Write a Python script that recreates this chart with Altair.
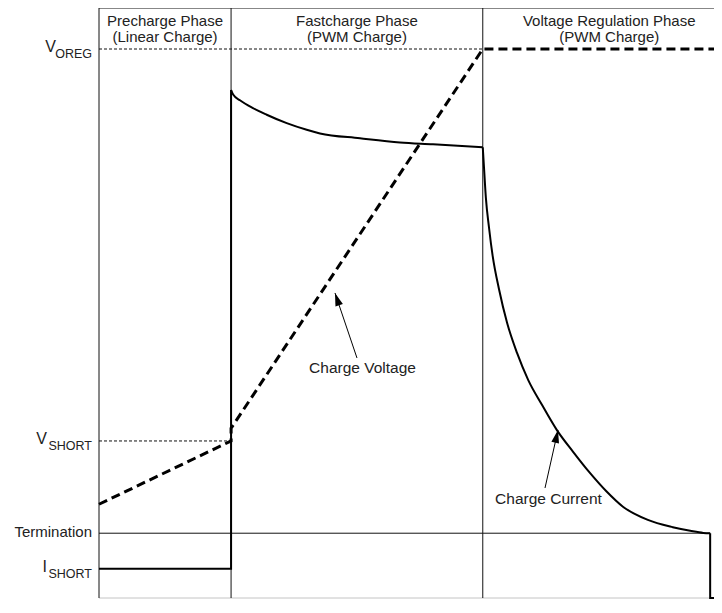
import math
import altair as alt
import pandas as pd

# ---------------- data (time units 0..100, level units 0..100) ----------------
phase_names = ["Precharge Phase", "Fastcharge Phase", "Voltage Regulation Phase"]
phase_modes = ["(Linear Charge)", "(PWM Charge)", "(PWM Charge)"]
phase_edges = [0.0, 21.2, 61.6, 102.2]
t_end = 100.0

v_oreg = 93.2
v_short = 28.2
i_term = 12.9
i_short = 7.0

voltage_t = [0.0, 21.2, 21.2, 61.6, 100.0]
voltage_v = [17.7, 28.2, 30.3, 93.2, 93.2]

cur_pre_t = [0.0, 21.2, 21.2]
cur_pre_v = [7.0, 7.0, 86.4]
cur_fast_t = [21.2, 21.56, 22.63, 24.72, 26.92, 30.13, 33.34, 35.47, 41.89, 48.31, 53.61, 61.6]
cur_fast_v = [86.4, 85.6, 84.7, 83.4, 82.3, 80.9, 79.8, 79.2, 78.4, 77.7, 77.4, 76.9]
cur_reg_t = [61.6, 61.8, 62.1, 62.6, 63.2, 64.2, 65.5, 67.1, 68.9, 71.1, 73.5, 76.1,
             78.8, 81.4, 84.1, 88.1, 92.1, 94.9, 97.0, 98.1]
cur_reg_v = [76.9, 73.5, 68.5, 63.6, 58.8, 53.4, 47.8, 42.8, 38.3, 34.2, 30.0, 26.4,
             22.9, 19.9, 17.3, 15.1, 13.9, 13.3, 12.95, 12.9]
cur_end_t = [98.1, 98.1, 100.0]
cur_end_v = [12.9, 0.0, 0.0]

# annotations: label, label position, arrow tail, arrow tip
ann_labels = ["Charge Voltage", "Charge Current"]
ann_text_t = [42.3, 72.15]
ann_text_v = [39.5, 17.7]
ann_tail_t = [41.41, 71.59]
ann_tail_v = [41.96, 20.40]
ann_tip_t = [37.88, 73.68]
ann_tip_v = [52.74, 30.02]

# ---------------- styling / layout ----------------
PX_T = 6.23          # pixels per time unit
PX_V = 6.03          # pixels per level unit
W = 615
H = 590
v_floor = 100.0 - H / PX_V
FONT = "Liberation Sans"
TXT = "#222222"

xs = alt.Scale(domain=[0, W / PX_T], nice=False, zero=False)
ys = alt.Scale(domain=[v_floor, 100], nice=False, zero=False, clamp=True)


def df_pts(ts, vs):
    return pd.DataFrame({"t": ts, "v": vs, "i": list(range(len(ts)))})


def line_layer(ts, vs, **mark):
    return alt.Chart(df_pts(ts, vs)).mark_line(**mark).encode(
        x=alt.X("t:Q", scale=xs, axis=None),
        y=alt.Y("v:Q", scale=ys, axis=None),
        order=alt.Order("i:Q"),
    )


def rules(rows, **mark):
    d = pd.DataFrame(rows, columns=["t", "t2", "v", "v2"])
    return alt.Chart(d).mark_rule(**mark).encode(
        x=alt.X("t:Q", scale=xs, axis=None), x2="t2:Q",
        y=alt.Y("v:Q", scale=ys, axis=None), y2="v2:Q",
    )


layers = []

# bottom baseline (light gray)
layers.append(rules([[0, t_end, 0, 0]], color="#c4c4c4", strokeWidth=1))
# frame left/top and phase dividers
frame_rows = [[0, 0, 0, 100], [0, t_end, 100, 100]]
for e in phase_edges[1:-1]:
    frame_rows.append([e, e, 0, 100])
layers.append(rules(frame_rows, color="#111111", strokeWidth=1))

# thin reference lines
layers.append(rules([[0, phase_edges[2], v_oreg, v_oreg]], color="#111111",
                    strokeWidth=1, strokeDash=[3, 2]))
layers.append(rules([[0, phase_edges[1], v_short, v_short]], color="#111111",
                    strokeWidth=1, strokeDash=[3, 2]))
layers.append(rules([[0, cur_end_t[0], i_term, i_term]], color="#111111", strokeWidth=1))

# charge current
layers.append(line_layer(cur_pre_t, cur_pre_v, color="black", strokeWidth=2))
layers.append(line_layer(cur_fast_t, cur_fast_v, color="black", strokeWidth=2, interpolate="monotone"))
layers.append(line_layer(cur_reg_t, cur_reg_v, color="black", strokeWidth=2, interpolate="monotone"))
layers.append(line_layer(cur_end_t, cur_end_v, color="black", strokeWidth=2))

# charge voltage
layers.append(line_layer(voltage_t, voltage_v, color="black", strokeWidth=3, strokeDash=[9, 5]))

# annotations
ARROW = "M0,0L-0.6,2L0.6,2Z"
for k in range(len(ann_labels)):
    layers.append(rules([[ann_tail_t[k], ann_tip_t[k], ann_tail_v[k], ann_tip_v[k]]],
                        color="black", strokeWidth=1))
    pdx = (ann_tip_t[k] - ann_tail_t[k]) * PX_T
    pdy = -(ann_tip_v[k] - ann_tail_v[k]) * PX_V
    ang = math.degrees(math.atan2(pdx, -pdy)) % 360
    head = pd.DataFrame({"t": [ann_tip_t[k]], "v": [ann_tip_v[k]]})
    layers.append(alt.Chart(head).mark_point(shape=ARROW, filled=True, size=169, opacity=1,
                                             color="black", strokeWidth=0, angle=ang).encode(
        x=alt.X("t:Q", scale=xs, axis=None), y=alt.Y("v:Q", scale=ys, axis=None)))
    lab = pd.DataFrame({"t": [ann_text_t[k]], "v": [ann_text_v[k]], "s": [ann_labels[k]]})
    layers.append(alt.Chart(lab).mark_text(font=FONT, fontSize=15.5, color=TXT,
                                           align="center", baseline="alphabetic").encode(
        x=alt.X("t:Q", scale=xs, axis=None), y=alt.Y("v:Q", scale=ys, axis=None), text="s:N"))

# phase headers (two lines each)
centers = [(phase_edges[k] + phase_edges[k + 1]) / 2 for k in range(3)]
hdr = pd.DataFrame({"t": centers,
                    "label": [n + "\n" + m for n, m in zip(phase_names, phase_modes)]})
layers.append(alt.Chart(hdr).mark_text(font=FONT, fontSize=15, color=TXT, align="center",
                                       baseline="alphabetic", lineBreak="\n",
                                       lineHeight=16).encode(
    x=alt.X("t:Q", scale=xs, axis=None), y=alt.value(17.5), text="label:N"))


# left level labels
def left_label(main, sub, level, main_dx):
    d = pd.DataFrame({"v": [level], "main": [main], "sub": [sub]})
    b = alt.Chart(d).encode(x=alt.value(0), y=alt.Y("v:Q", scale=ys, axis=None))
    m = b.mark_text(font=FONT, fontSize=16, color=TXT, align="right", baseline="alphabetic",
                    dx=main_dx, dy=3).encode(text="main:N")
    s = b.mark_text(font=FONT, fontSize=12.5, color=TXT, align="right", baseline="alphabetic",
                    dx=-7, dy=9).encode(text="sub:N")
    return [m, s]


layers += left_label("V", "OREG", v_oreg, -43)
layers += left_label("V", "SHORT", v_short, -52)
layers += left_label("I", "SHORT", i_short, -52)
term = pd.DataFrame({"v": [i_term], "s": ["Termination"]})
layers.append(alt.Chart(term).mark_text(font=FONT, fontSize=15, color=TXT, align="right",
                                        baseline="alphabetic", dx=-7, dy=4).encode(
    x=alt.value(0), y=alt.Y("v:Q", scale=ys, axis=None), text="s:N"))

chart = alt.layer(*layers).properties(
    width=W, height=H,
    autosize=alt.AutoSizeParams(type="none"),
    padding={"left": 91, "top": 0, "right": 0, "bottom": 1},
    background="white",
).configure_view(strokeWidth=0)

chart.save("out.html", embed_options={"renderer": "svg", "actions": False})
